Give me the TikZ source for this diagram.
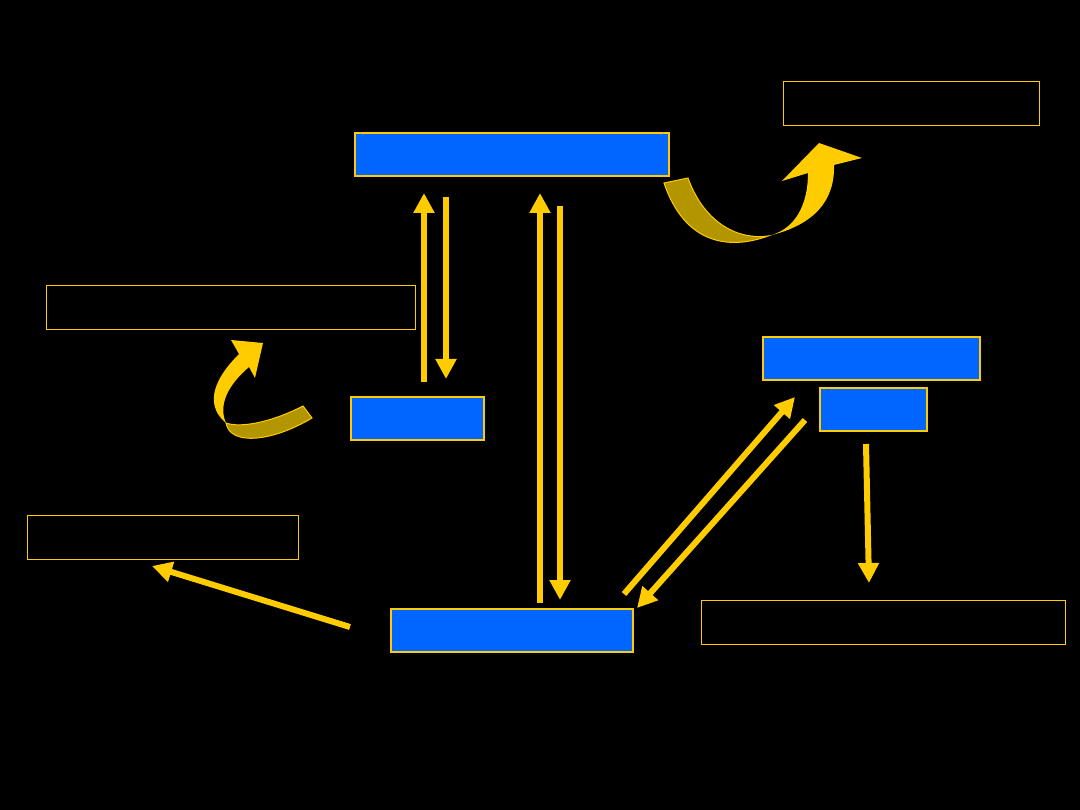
\documentclass[tikz,border=0pt]{standalone}
\usetikzlibrary{arrows.meta}
\definecolor{boxblue}{RGB}{0,102,255}
\definecolor{gold}{RGB}{255,204,0}
\definecolor{darkgold}{RGB}{179,149,0}
\tikzset{
  bluebox/.style={draw=gold, line width=1.5pt, fill=boxblue, inner sep=0pt, minimum height=43pt},
  emptybox/.style={draw=gold, line width=0.8pt, inner sep=0pt, minimum height=44pt},
  yarrow/.style={draw=gold, line width=6pt, -{Triangle[length=20pt,width=20pt]}},
}
\begin{document}
\begin{tikzpicture}[x=1pt,y=-1pt]
	\fill[black] (0,0) rectangle (1080,810);
	\useasboundingbox (0,0) rectangle (1080,810);
	
	% Boxes
	\node[bluebox, minimum width=314pt] (upper) at (512,154.5) {};
	\node[bluebox, minimum width=133pt] (middle) at (417.5,418.5) {};
	\node[bluebox, minimum width=217pt] (rightA) at (871.5,358.5) {};
	\node[bluebox, minimum width=107pt] (rightB) at (873.5,409.5) {};
	\node[bluebox, minimum width=242pt] (lower) at (512,630.5) {};
	
	\node[emptybox, minimum width=256pt] (topright) at (911,103) {};
	\node[emptybox, minimum width=369pt] (leftbox) at (230.5,307) {};
	\node[emptybox, minimum width=271pt] (botleft) at (162.5,537) {};
	\node[emptybox, minimum width=364pt] (botright) at (883,622) {};
	
	% Arrow ends
	\coordinate (u1s) at (424,382); \coordinate (u1e) at (424,193);
	\coordinate (d1s) at (446,197); \coordinate (d1e) at (446,379);
	\coordinate (u2s) at (540,603); \coordinate (u2e) at (540,193);
	\coordinate (d2s) at (560,206); \coordinate (d2e) at (560,600);
	\coordinate (g1s) at (624,594); \coordinate (g1e) at (795,397);
	\coordinate (g2s) at (805,420); \coordinate (g2e) at (637,608);
	\coordinate (vs) at (866,444); \coordinate (ve) at (869,583);
	\coordinate (ls) at (350,627); \coordinate (le) at (152,566);
	
	% Straight arrows
	\draw[yarrow] (u1s) -- (u1e);
	\draw[yarrow] (d1s) -- (d1e);
	\draw[yarrow] (u2s) -- (u2e);
	\draw[yarrow] (d2s) -- (d2e);
	\draw[yarrow] (g1s) -- (g1e);
	\draw[yarrow] (g2s) -- (g2e);
	\draw[yarrow] (vs) -- (ve);
	\draw[yarrow] (ls) -- (le);
	
	% Curved arrow, top right
	\filldraw[fill=darkgold, draw=gold, line width=1pt] (664,183) .. controls (685,245) and (730,250) .. (768,236)
		.. controls (740,240) and (705,225) .. (688,178) -- cycle;
	\fill[gold] (768,236) .. controls (815,225) and (835,200) .. (834,165) -- (862,158) -- (819,143) -- (782,181)
		-- (808,173) .. controls (808,205) and (795,230) .. (768,236) -- cycle;
	
	% Curved arrow, left
	\fill[gold] (226,423) .. controls (208,408) and (208,385) .. (239,354) -- (231,340) -- (263,343) -- (255,378)
		-- (249,367) .. controls (228,385) and (218,405) .. (226,423) -- cycle;
	\filldraw[fill=darkgold, draw=gold, line width=1pt] (226,423) .. controls (230,446) and (272,442) .. (312,418)
		-- (303,406) .. controls (270,423) and (240,428) .. (226,423) -- cycle;
\end{tikzpicture}
\end{document}
